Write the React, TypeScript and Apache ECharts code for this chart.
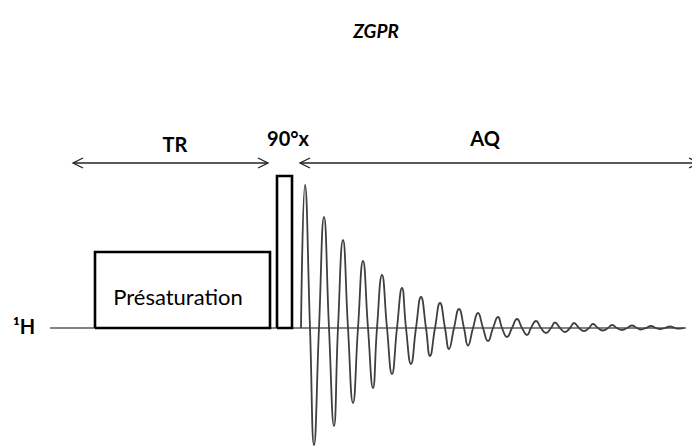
import React, { useEffect, useRef } from "react";
import * as echarts from "echarts";

// ---- schematic data (time axis / amplitude axis, baseline = 0) ----
const baselineSpan = [50, 686];
const presatTime = [95, 270];
const presatLevel = 76;
const pulseTime = [277, 292];
const pulseLevel = 152;
const fidStart = 301;
const fidEnd = 684;
const peakTime = [305, 324, 343, 363, 382, 402, 421, 440, 459, 478, 498, 517, 536, 555, 574, 593, 612, 632, 651, 670];
const peakAmp = [143, 111, 88, 67, 53, 40, 31, 25, 19, 15, 11, 9, 7, 5.5, 5, 4, 3, 2.5, 2, 1.5];
const downCross = [310, 329, 348, 368, 387, 406, 426, 445, 464, 483, 502, 522, 541, 560, 579, 598, 617, 637, 656, 675];
const troughTime = [314, 334, 353, 373, 392, 411, 430, 449, 468, 488, 507, 527, 546, 565, 584, 603, 622, 641, 660, 679];
const troughAmp = [-117, -98, -75, -60, -46, -36, -28, -21, -17.5, -13, -9, -7, -5, -4, -3, -2.5, -2, -1.5, -1, -0.7];
const upCross = [319, 338, 358, 377, 397, 416, 435, 454, 473, 493, 512, 531, 551, 570, 589, 608, 627, 646, 665];
const trSpan = [73, 268];
const aqSpan = [300, 699];
const arrowLevel = 165;
const headLen = 10;
const headHalf = 5;

const titleText = "ZGPR";
const labels = { tr: "TR", pulse: "90°x", aq: "AQ", nucleus: "¹H", presat: "Présaturation" };

export default function App() {
  const ref = useRef<HTMLDivElement>(null);
  useEffect(() => {
    if (!ref.current) return;
    const chart = echarts.init(ref.current, null, { renderer: "svg" });

    const fid: number[][] = [[fidStart, 0]];
    for (let i = 0; i < peakTime.length; i++) {
      fid.push([peakTime[i], peakAmp[i]]);
      fid.push([downCross[i], 0]);
      fid.push([troughTime[i], troughAmp[i]]);
      if (i < upCross.length) fid.push([upCross[i], 0]);
    }
    fid.push([fidEnd, 0]);

    const plain = (data: any[], color: string, width: number, z = 2, smooth = false) => ({
      type: "line",
      data,
      symbol: "none",
      smooth,
      clip: false,
      silent: true,
      z,
      lineStyle: { color, width, join: "miter", cap: "butt" },
    });

    const arrowParts = (span: number[]) => [
      plain([[span[0], arrowLevel], [span[1], arrowLevel]], "#222", 1.3),
      plain([[span[0] + headLen, arrowLevel + headHalf], [span[0], arrowLevel], [span[0] + headLen, arrowLevel - headHalf]], "#222", 1.3),
      plain([[span[1] - headLen, arrowLevel + headHalf], [span[1], arrowLevel], [span[1] - headLen, arrowLevel - headHalf]], "#222", 1.3),
    ];

    const boldFont = "Lato, 'Open Sans', sans-serif";

    chart.setOption({
      animation: false,
      backgroundColor: "#fff",
      grid: { left: 0, right: 0, top: 0, bottom: 0 },
      xAxis: { type: "value", min: 0, max: 692, show: false },
      yAxis: { type: "value", min: -118, max: 328, show: false },
      series: [
        plain([[baselineSpan[0], 0], [baselineSpan[1], 0]], "#5a5a5a", 1.5, 1),
        plain(fid, "#3f3f3f", 1.8, 2, true),
        plain([[presatTime[0], 0], [presatTime[0], presatLevel], [presatTime[1], presatLevel], [presatTime[1], 0], [presatTime[0], 0]], "#000", 2.6, 3),
        plain([[pulseTime[0], 0], [pulseTime[0], pulseLevel], [pulseTime[1], pulseLevel], [pulseTime[1], 0], [pulseTime[0], 0]], "#000", 2.6, 3),
        ...arrowParts(trSpan),
        ...arrowParts(aqSpan),
      ],
      graphic: [
        { type: "text", x: 376, y: 30, style: { text: titleText, font: `italic bold 19px ${boldFont}`, fill: "#000", align: "center", verticalAlign: "middle" } },
        { type: "text", x: 175, y: 144, style: { text: labels.tr, font: `bold 20px ${boldFont}`, fill: "#000", align: "center", verticalAlign: "middle" } },
        { type: "text", x: 288, y: 138, style: { text: labels.pulse, font: `bold 20px ${boldFont}`, fill: "#000", align: "center", verticalAlign: "middle" } },
        { type: "text", x: 485, y: 138, style: { text: labels.aq, font: `bold 20px ${boldFont}`, fill: "#000", align: "center", verticalAlign: "middle" } },
        { type: "text", x: 24, y: 326, style: { text: labels.nucleus, font: `bold 20px ${boldFont}`, fill: "#000", align: "center", verticalAlign: "middle" } },
        { type: "text", x: 178, y: 296, style: { text: labels.presat, font: `22px ${boldFont}`, fill: "#000", align: "center", verticalAlign: "middle" } },
      ],
    });
    return () => chart.dispose();
  }, []);
  return <div ref={ref} style={{ position: "fixed", left: 0, top: 0, width: 692, height: 446 }} />;
}
